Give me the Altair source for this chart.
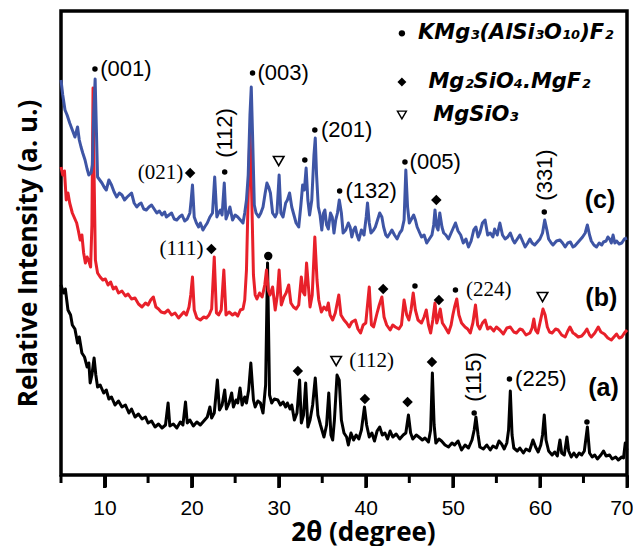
import altair as alt
import pandas as pd

# ---- XRD traces: (2theta in degrees, relative intensity in arbitrary units) ----
black_a = [(5.0, 190), (5.3, 182), (5.5, 186), (5.8, 165), (6.1, 160), (6.3, 150), (6.6, 146), (6.9, 132), (7.1, 138), (7.4, 122),
           (7.7, 118), (8.0, 108), (8.2, 112), (8.35, 92), (8.55, 100), (8.8, 117), (9.0, 100), (9.2, 88), (9.5, 90), (9.9, 82),
           (10.2, 85), (10.5, 76), (10.8, 78), (11.2, 70), (11.6, 74), (12.0, 68), (12.4, 70), (12.8, 62), (13.1, 66), (13.5, 58),
           (13.9, 61), (14.3, 56), (14.7, 58), (15.0, 52), (15.4, 54), (15.8, 48), (16.2, 51), (16.6, 47), (17.0, 50), (17.3, 72),
           (17.5, 49), (17.9, 51), (18.3, 47), (18.7, 53), (19.0, 50), (19.3, 73), (19.5, 52), (19.8, 55), (20.2, 49), (20.6, 53),
           (21.0, 50), (21.4, 54), (21.8, 58), (22.1, 68), (22.3, 57), (22.6, 62), (22.96, 95), (23.2, 65), (23.5, 70), (23.8, 85),
           (24.0, 66), (24.3, 72), (24.6, 82), (24.8, 68), (25.1, 75), (25.3, 72), (25.56, 87), (25.8, 70), (26.1, 78), (26.3, 72),
           (26.55, 85), (26.8, 112), (27.1, 75), (27.3, 68), (27.6, 74), (27.9, 72), (28.2, 62), (28.5, 90), (28.72, 212), (28.95, 80),
           (29.2, 72), (29.5, 76), (29.9, 75), (30.2, 70), (30.5, 73), (30.8, 68), (31.0, 72), (31.3, 66), (31.5, 70), (31.8, 55),
           (32.1, 62), (32.4, 95), (32.6, 52), (32.85, 60), (33.1, 92), (33.35, 48), (33.6, 55), (33.9, 70), (34.2, 97), (34.5, 60),
           (34.8, 50), (35.2, 38), (35.5, 50), (35.75, 82), (36.0, 40), (36.2, 35), (36.4, 55), (36.7, 100), (36.95, 95), (37.2, 55),
           (37.5, 42), (37.8, 38), (38.0, 30), (38.3, 42), (38.6, 35), (38.9, 40), (39.2, 36), (39.5, 45), (39.85, 68), (40.1, 50),
           (40.4, 38), (40.7, 42), (41.0, 34), (41.3, 44), (41.6, 48), (41.9, 40), (42.2, 42), (42.5, 36), (42.8, 44), (43.1, 38),
           (43.5, 41), (43.9, 36), (44.3, 40), (44.6, 42), (44.9, 60), (45.15, 42), (45.4, 36), (45.8, 40), (46.1, 38), (46.5, 35),
           (46.8, 37), (47.2, 33), (47.45, 45), (47.65, 102), (47.85, 50), (48.05, 32), (48.4, 36), (48.7, 34), (49.1, 30), (49.5, 28),
           (49.9, 32), (50.2, 30), (50.6, 34), (51.0, 25), (51.4, 30), (51.8, 27), (52.2, 35), (52.45, 45), (52.65, 58), (52.9, 40),
           (53.1, 28), (53.5, 26), (53.9, 30), (54.3, 25), (54.6, 29), (55.0, 27), (55.3, 34), (55.6, 31), (55.9, 26), (56.2, 32),
           (56.4, 45), (56.6, 84), (56.8, 40), (57.0, 27), (57.4, 24), (57.7, 27), (58.1, 22), (58.4, 26), (58.8, 24), (59.2, 35),
           (59.5, 28), (59.8, 23), (60.1, 30), (60.3, 40), (60.5, 60), (60.7, 35), (61.0, 24), (61.4, 20), (61.7, 23), (62.0, 19),
           (62.3, 35), (62.5, 22), (62.8, 20), (63.1, 38), (63.3, 24), (63.6, 18), (63.9, 22), (64.2, 18), (64.5, 22), (64.8, 20),
           (65.1, 24), (65.45, 48), (65.7, 22), (66.0, 18), (66.3, 20), (66.6, 16), (67.0, 20), (67.3, 24), (67.6, 19), (68.0, 20),
           (68.3, 16), (68.7, 18), (69.0, 15), (69.4, 18), (69.6, 17), (69.8, 32), (70.0, 25)]

red_b = [(5.0, 308), (5.2, 300), (5.4, 304), (5.6, 275), (5.8, 282), (6.0, 272), (6.3, 262), (6.5, 258), (6.8, 252), (7.0, 244),
         (7.2, 235), (7.4, 240), (7.6, 222), (7.8, 212), (8.0, 218), (8.2, 214), (8.4, 208), (8.55, 250), (8.68, 387), (8.8, 300),
         (8.95, 215), (9.2, 202), (9.5, 198), (9.8, 195), (10.1, 196), (10.4, 190), (10.7, 193), (11.0, 186), (11.3, 188), (11.6, 182),
         (12.0, 184), (12.4, 179), (12.7, 181), (13.1, 176), (13.5, 177), (13.9, 171), (14.3, 168), (14.7, 172), (15.0, 170), (15.3, 175),
         (15.6, 178), (15.9, 168), (16.2, 166), (16.5, 163), (16.9, 162), (17.3, 165), (17.7, 160), (18.1, 162), (18.5, 157), (18.8, 160),
         (19.1, 163), (19.4, 160), (19.7, 168), (19.9, 180), (20.1, 198), (20.3, 165), (20.6, 157), (21.0, 155), (21.4, 158), (21.7, 157),
         (22.0, 160), (22.3, 166), (22.6, 218), (22.85, 162), (23.1, 160), (23.4, 165), (23.7, 205), (23.95, 160), (24.3, 163), (24.7, 160),
         (25.0, 162), (25.3, 159), (25.6, 165), (25.9, 166), (26.1, 175), (26.3, 205), (26.5, 280), (26.7, 345), (26.9, 280), (27.1, 200),
         (27.3, 180), (27.5, 176), (27.8, 182), (28.1, 178), (28.4, 190), (28.6, 205), (28.8, 185), (29.0, 180), (29.3, 188), (29.6, 165),
         (29.85, 180), (30.05, 205), (30.3, 170), (30.6, 178), (30.85, 182), (31.15, 190), (31.4, 172), (31.7, 168), (32.0, 166), (32.3, 170),
         (32.6, 198), (32.8, 183), (33.0, 180), (33.2, 212), (33.4, 190), (33.6, 168), (33.85, 180), (34.15, 238), (34.4, 195), (34.6, 175),
         (34.9, 163), (35.2, 168), (35.5, 165), (35.7, 172), (35.9, 160), (36.2, 155), (36.5, 162), (36.9, 180), (37.15, 160), (37.5, 155),
         (37.8, 152), (38.1, 148), (38.4, 153), (38.8, 155), (39.1, 146), (39.4, 142), (39.7, 150), (40.0, 152), (40.4, 188), (40.65, 150),
         (40.9, 148), (41.3, 162), (41.55, 170), (41.85, 178), (42.1, 158), (42.4, 150), (42.8, 145), (43.1, 150), (43.4, 148), (43.8, 146),
         (44.1, 150), (44.4, 175), (44.7, 160), (44.95, 155), (45.2, 165), (45.45, 182), (45.7, 165), (46.0, 155), (46.4, 152), (46.7, 158),
         (46.95, 165), (47.2, 150), (47.45, 142), (47.7, 155), (47.95, 172), (48.15, 152), (48.35, 158), (48.55, 166), (48.8, 152), (49.1, 148),
         (49.5, 142), (49.8, 150), (50.0, 160), (50.2, 168), (50.45, 176), (50.7, 160), (51.0, 152), (51.4, 148), (51.7, 146), (52.0, 142),
         (52.3, 152), (52.6, 170), (52.85, 150), (53.1, 146), (53.4, 152), (53.7, 155), (54.0, 146), (54.3, 148), (54.7, 144), (55.0, 148),
         (55.4, 145), (55.8, 141), (56.2, 147), (56.6, 148), (57.0, 143), (57.3, 142), (57.7, 146), (58.0, 145), (58.4, 140), (58.85, 142),
         (59.1, 147), (59.3, 156), (59.5, 145), (59.75, 142), (60.0, 152), (60.35, 166), (60.6, 160), (60.85, 148), (61.1, 143), (61.4, 142),
         (61.8, 146), (62.1, 145), (62.5, 140), (62.9, 138), (63.2, 144), (63.45, 148), (63.8, 142), (64.0, 141), (64.4, 138), (64.8, 139),
         (65.1, 142), (65.4, 146), (65.7, 140), (65.9, 138), (66.3, 142), (66.7, 148), (67.0, 143), (67.4, 141), (67.8, 137), (68.2, 135),
         (68.5, 138), (68.8, 141), (69.1, 137), (69.4, 138), (69.7, 142), (70.0, 145)]

blue_c = [(5.0, 395), (5.2, 380), (5.46, 365), (5.7, 360), (6.0, 352), (6.3, 345), (6.6, 338), (6.9, 348), (7.1, 335), (7.3, 328),
          (7.5, 322), (7.76, 315), (8.0, 306), (8.2, 300), (8.45, 302), (8.6, 310), (8.75, 360), (8.92, 396), (9.05, 350), (9.2, 298),
          (9.45, 295), (9.7, 292), (9.95, 288), (10.2, 285), (10.5, 295), (10.8, 290), (11.1, 283), (11.4, 278), (11.7, 282), (12.0, 280),
          (12.3, 275), (12.6, 278), (13.1, 282), (13.4, 272), (13.7, 268), (14.0, 271), (14.2, 272), (14.5, 266), (14.8, 265), (15.1, 268),
          (15.4, 270), (15.7, 266), (16.0, 262), (16.3, 264), (16.6, 260), (16.9, 263), (17.1, 258), (17.4, 260), (17.7, 262), (18.0, 256),
          (18.3, 255), (18.6, 258), (18.9, 260), (19.2, 254), (19.5, 256), (19.8, 262), (19.95, 275), (20.1, 290), (20.3, 258), (20.55, 252),
          (20.8, 248), (21.0, 252), (21.3, 245), (21.5, 248), (21.8, 252), (22.1, 258), (22.4, 262), (22.65, 298), (22.9, 258), (23.1, 262),
          (23.3, 265), (23.5, 260), (23.75, 292), (23.95, 256), (24.2, 262), (24.4, 268), (24.7, 255), (25.0, 260), (25.3, 258), (25.6, 255),
          (25.9, 252), (26.1, 262), (26.3, 275), (26.5, 300), (26.7, 360), (26.85, 388), (27.0, 340), (27.2, 270), (27.4, 262), (27.7, 258),
          (27.95, 262), (28.2, 268), (28.45, 282), (28.65, 292), (28.85, 288), (29.05, 282), (29.3, 262), (29.6, 258), (29.8, 262), (30.05, 300),
          (30.25, 262), (30.5, 258), (30.8, 272), (31.0, 275), (31.25, 282), (31.5, 268), (31.75, 260), (32.0, 252), (32.3, 248), (32.55, 270),
          (32.75, 290), (32.95, 285), (33.15, 307), (33.35, 275), (33.55, 260), (33.8, 275), (34.05, 320), (34.2, 337), (34.35, 300), (34.55, 268),
          (34.75, 260), (34.95, 245), (35.15, 262), (35.3, 265), (35.5, 250), (35.7, 246), (35.95, 262), (36.15, 258), (36.35, 242), (36.55, 255),
          (36.75, 262), (36.96, 275), (37.2, 262), (37.4, 242), (37.7, 245), (38.0, 252), (38.2, 248), (38.4, 238), (38.6, 245), (38.8, 248),
          (39.0, 240), (39.2, 235), (39.5, 245), (39.8, 240), (40.05, 258), (40.2, 272), (40.4, 252), (40.6, 242), (40.9, 245), (41.1, 248),
          (41.35, 255), (41.6, 262), (41.85, 258), (42.05, 248), (42.3, 240), (42.5, 238), (42.8, 242), (43.0, 245), (43.3, 240), (43.6, 236),
          (43.9, 242), (44.15, 245), (44.4, 255), (44.6, 305), (44.8, 268), (45.0, 252), (45.25, 256), (45.5, 260), (45.7, 255), (45.9, 248),
          (46.2, 242), (46.4, 238), (46.7, 240), (47.0, 232), (47.3, 236), (47.6, 240), (47.8, 250), (47.95, 265), (48.15, 248), (48.3, 245),
          (48.5, 262), (48.75, 248), (48.95, 242), (49.2, 240), (49.5, 236), (49.8, 242), (50.1, 248), (50.3, 252), (50.6, 244), (50.9, 240),
          (51.2, 232), (51.5, 236), (51.8, 228), (52.1, 234), (52.4, 245), (52.65, 248), (52.9, 238), (53.1, 242), (53.4, 252), (53.7, 255),
          (54.0, 240), (54.3, 242), (54.6, 238), (54.8, 246), (55.1, 240), (55.4, 252), (55.7, 240), (56.0, 236), (56.3, 238), (56.6, 242),
          (56.9, 235), (57.1, 232), (57.4, 236), (57.7, 240), (58.0, 234), (58.3, 228), (58.6, 232), (58.85, 236), (59.1, 232), (59.4, 230),
          (59.7, 233), (60.0, 236), (60.3, 242), (60.55, 255), (60.8, 245), (61.0, 236), (61.3, 232), (61.5, 230), (61.9, 234), (62.3, 235),
          (62.6, 232), (62.9, 228), (63.2, 232), (63.5, 233), (63.8, 228), (64.0, 229), (64.3, 232), (64.6, 235), (64.9, 238), (65.2, 242),
          (65.45, 250), (65.7, 240), (65.9, 234), (66.2, 230), (66.5, 228), (66.8, 232), (67.1, 230), (67.3, 233), (67.6, 234), (67.8, 238),
          (68.0, 236), (68.2, 232), (68.4, 240), (68.6, 232), (68.8, 234), (69.1, 231), (69.4, 232), (69.7, 236), (70.0, 237)]

# ---- phase markers (2theta, height) ----
dots_small = [(8.9, 406), (27.0, 402), (23.8, 303), (33.0, 315), (34.15, 345), (37.0, 284), (44.5, 313), (60.5, 263),
              (45.65, 189), (50.3, 185), (52.45, 62), (56.5, 96), (65.4, 53)]
dots_big = [(28.8, 219)]
diamonds = [(19.83, 302), (48.1, 275), (22.27, 226), (42.0, 186), (48.4, 175), (32.2, 104), (39.9, 76), (44.8, 73), (47.6, 113)]
triangles = [(30.0, 314), (60.3, 178), (36.6, 114)]

# ---- text labels ----
sans_labels = [("(001)", 9.5, 406), ("(003)", 27.57, 402), ("(201)", 34.85, 345), ("(132)", 37.67, 284),
               ("(005)", 45.03, 313), ("(225)", 57.15, 96)]
vertical_labels = [("(112)", 23.8, 342), ("(331)", 60.6, 300), ("(115)", 52.4, 98)]
serif_left = [("(224)", 51.5, 185), ("(112)", 38.1, 114)]
serif_right = [("(021)", 19.03, 302), ("(111)", 21.37, 226)]
sample_labels = [("(c)", 66.9, 275), ("(b)", 67.05, 177), ("(a)", 67.3, 87)]

# ---- legend ----
legend_marker_x = 44.15
legend_names = ["KMg₃(AlSi₃O₁₀)F₂", "Mg₂SiO₄.MgF₂", "MgSiO₃"]
legend_text_x = [46.0, 47.2, 47.75]
legend_y = [441.7, 393, 360]

# ---- axis ticks ----
major_ticks = [10, 20, 30, 40, 50, 60, 70]
minor_ticks = [5, 15, 25, 35, 45, 55, 65]

xscale = alt.Scale(domain=[5, 70], nice=False, zero=False)
yscale = alt.Scale(domain=[0, 464], nice=False, zero=False)

x_axis = alt.Axis(
    values=major_ticks,
    tickSize=12, ticks=True,
    tickWidth=3, tickColor="black", domain=False, grid=False,
    labelFont="Liberation Sans", labelFontSize=21, labelColor="black", labelPadding=10,
    labelFlush=True, labelFlushOffset=6,
    title="2θ (degree)", titleFont="Open Sans", titleFontWeight="bold", titleFontSize=26,
    titleColor="black", titleX=302, titleY=65, titleBaseline="alphabetic",
)
y_axis = alt.Axis(
    labels=False, ticks=False, domain=False, grid=False,
    title="Relative Intensity (a. u.)", titleFont="Open Sans", titleFontWeight="bold",
    titleFontSize=26, titleColor="black", titlePadding=20, titleY=242,
)


def pts(rows, cols=("x", "h")):
    return pd.DataFrame(rows, columns=list(cols))


def enc(xfield="x", text=False):
    e = dict(x=alt.X(f"{xfield}:Q", scale=xscale, axis=x_axis),
             y=alt.Y("h:Q", scale=yscale, axis=y_axis))
    if text:
        e["text"] = "t:N"
    return e


def line(rows, color):
    return alt.Chart(pts(rows)).mark_line(color=color, strokeWidth=3, strokeJoin="round").encode(**enc())


layers = [
    line(black_a, "#000000"),
    line(red_b, "#E8202A"),
    line(blue_c, "#3E55A5"),
]

# outward tick marks below the frame (major 10, 20 ... and minor 5, 15 ...)
layers.append(alt.Chart(pd.DataFrame({"x": major_ticks})).mark_rule(color="black", strokeWidth=3).encode(
    x=alt.X("x:Q", scale=xscale, axis=x_axis), y=alt.value(464), y2=alt.value(477)))
layers.append(alt.Chart(pd.DataFrame({"x": minor_ticks})).mark_rule(color="black", strokeWidth=3).encode(
    x=alt.X("x:Q", scale=xscale, axis=x_axis), y=alt.value(464), y2=alt.value(472)))

layers.append(alt.Chart(pts(dots_small)).mark_point(shape="circle", filled=True, color="black", size=30, opacity=1)
              .encode(**enc()))
layers.append(alt.Chart(pts(dots_big)).mark_point(shape="circle", filled=True, color="black", size=70, opacity=1)
              .encode(**enc()))
layers.append(alt.Chart(pts(diamonds)).mark_point(shape="diamond", filled=True, color="black", size=110, opacity=1)
              .encode(**enc()))
layers.append(alt.Chart(pts(triangles)).mark_point(shape="triangle-down", filled=False, color="black", size=110,
                                                    strokeWidth=1.6, opacity=1).encode(**enc()))

layers.append(alt.Chart(pts(sans_labels, ("t", "x", "h"))).mark_text(
    align="left", baseline="middle", font="Liberation Sans", fontSize=22, color="black").encode(**enc(text=True)))
layers.append(alt.Chart(pts(vertical_labels, ("t", "x", "h"))).mark_text(
    align="center", baseline="middle", angle=270, font="Liberation Sans", fontSize=22, color="black").encode(**enc(text=True)))
layers.append(alt.Chart(pts(serif_left, ("t", "x", "h"))).mark_text(
    align="left", baseline="middle", font="Liberation Serif", fontSize=21, color="black").encode(**enc(text=True)))
layers.append(alt.Chart(pts(serif_right, ("t", "x", "h"))).mark_text(
    align="right", baseline="middle", font="Liberation Serif", fontSize=21, color="black").encode(**enc(text=True)))
layers.append(alt.Chart(pts(sample_labels, ("t", "x", "h"))).mark_text(
    align="center", baseline="middle", font="Liberation Sans", fontWeight="bold", fontSize=25, color="black")
    .encode(**enc(text=True)))

legend_df = pd.DataFrame({"t": legend_names, "x": legend_text_x, "h": legend_y,
                          "mx": [legend_marker_x] * 3})
layers.append(alt.Chart(legend_df).mark_text(
    align="left", baseline="middle", font="DejaVu Sans", fontWeight="bold", fontStyle="italic", fontSize=21,
    color="black").encode(**enc(text=True)))
layers.append(alt.Chart(legend_df.iloc[[0]]).mark_point(shape="circle", filled=True, color="black", size=40, opacity=1)
              .encode(**enc("mx")))
layers.append(alt.Chart(legend_df.iloc[[1]]).mark_point(shape="diamond", filled=True, color="black", size=80, opacity=1)
              .encode(**enc("mx")))
layers.append(alt.Chart(legend_df.iloc[[2]]).mark_point(shape="triangle-down", filled=False, color="black", size=80,
                                                         strokeWidth=1.4, opacity=1)
              .encode(**enc("mx")))

chart = alt.layer(*layers).properties(
    width=566, height=464,
    padding={"left": 53, "top": 3, "right": 6, "bottom": 71},
    autosize=alt.AutoSizeParams(type="none"),
).configure_view(stroke="black", strokeWidth=3.5)

chart.save("out.html", embed_options={"renderer": "svg", "actions": False})
